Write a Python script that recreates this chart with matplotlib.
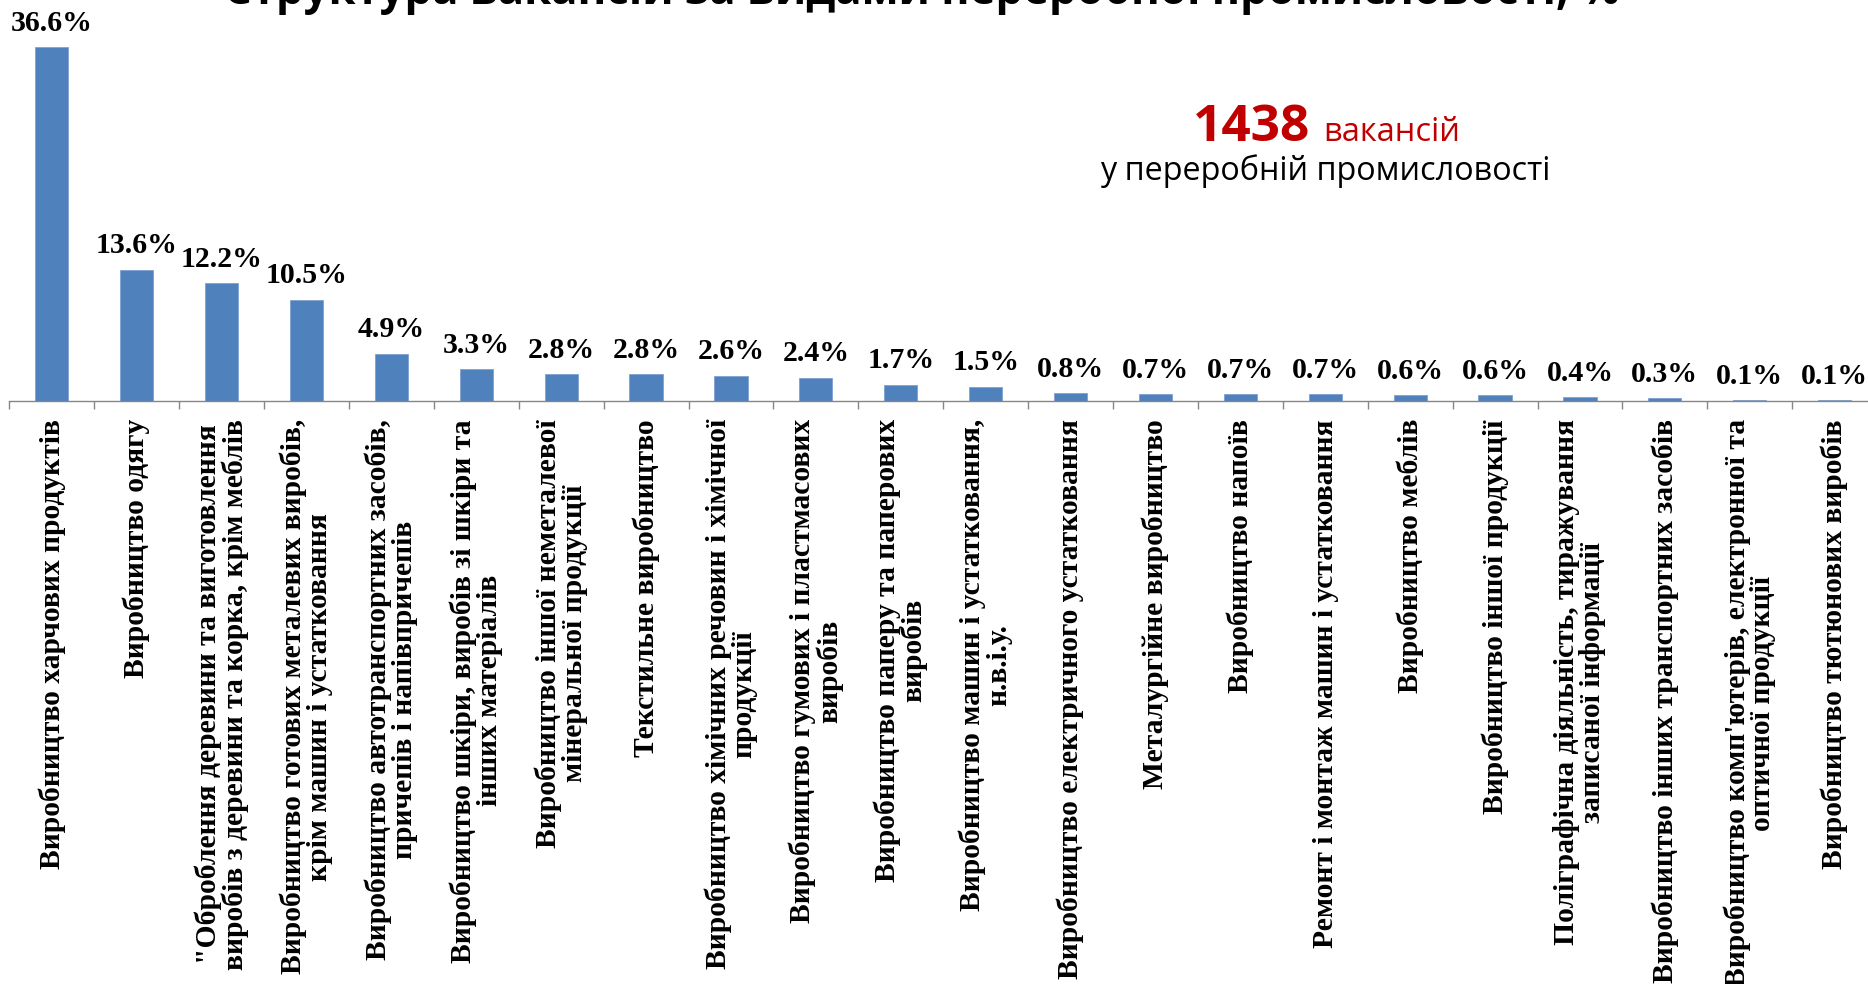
import matplotlib
matplotlib.use("Agg")
import matplotlib.pyplot as plt
from matplotlib.ticker import FixedLocator

W, H, DPI = 1868, 984, 100

categories = [
    "Виробництво харчових продуктів",
    "Виробництво одягу",
    "\"Оброблення деревини та виготовлення\nвиробів з деревини та корка, крім меблів",
    "Виробництво готових металевих виробів,\nкрім машин і устатковання",
    "Виробництво автотранспортних засобів,\nпричепів і напівпричепів",
    "Виробництво шкіри, виробів зі шкіри та\nінших матеріалів",
    "Виробництво іншої неметалевої\nмінеральної продукції",
    "Текстильне виробництво",
    "Виробництво хімічних речовин і хімічної\nпродукції",
    "Виробництво гумових і пластмасових\nвиробів",
    "Виробництво паперу та паперових\nвиробів",
    "Виробництво машин і устатковання,\nн.в.і.у.",
    "Виробництво електричного устатковання",
    "Металургійне виробництво",
    "Виробництво напоїв",
    "Ремонт і монтаж машин і устатковання",
    "Виробництво меблів",
    "Виробництво іншої продукції",
    "Поліграфічна діяльність, тиражування\nзаписаної інформації",
    "Виробництво інших транспортних засобів",
    "Виробництво комп'ютерів, електронної та\nоптичної продукції",
    "Виробництво тютюнових виробів",
]
values = [36.6, 13.6, 12.2, 10.5, 4.9, 3.3, 2.8, 2.8, 2.6, 2.4, 1.7, 1.5,
          0.8, 0.7, 0.7, 0.7, 0.6, 0.6, 0.4, 0.3, 0.1, 0.1]

title = "Структура вакансій за видами переробної промисловості, %"
total_number = "1438"
total_word = "вакансій"
total_line2 = "у переробній промисловості"

BAR_COLOR = "#4F81BD"
AXIS_COLOR = "#868686"
RED = "#C00000"
SERIF = ["Liberation Serif", "DejaVu Serif"]
SANS = ["Open Sans", "DejaVu Sans"]

fig = plt.figure(figsize=(W / DPI, H / DPI), dpi=DPI)
fig.patch.set_facecolor("white")

def fx(px):
    return px / W

def fy(py):
    return 1 - py / H

# axes geometry (pixels)
left_px, axis_y_px, step_px = 9.3, 401.0, 84.9
n = len(values)
ax = fig.add_axes([fx(left_px), fy(axis_y_px), n * step_px / W, axis_y_px / H])
ax.set_facecolor("none")

x = list(range(n))
ax.bar(x, values, width=0.39, color=BAR_COLOR, edgecolor="#7FA2D0",
       linewidth=0.6, zorder=2)
ax.set_xlim(-0.5, n - 0.5)
ax.set_ylim(0, axis_y_px / 9.66)

for s in ["top", "right", "left"]:
    ax.spines[s].set_visible(False)
ax.spines["bottom"].set_color(AXIS_COLOR)
ax.spines["bottom"].set_linewidth(1.0)
ax.set_yticks([])

ax.set_xticks(x)
ax.set_xticklabels(categories, rotation=90, ha="center", va="top",
                   multialignment="center", linespacing=0.95,
                   fontsize=21.3, fontweight="bold", family=SERIF)
ax.tick_params(axis="x", which="major", length=0, pad=13)
ax.xaxis.set_minor_locator(FixedLocator([i - 0.5 for i in range(n + 1)]))
ax.tick_params(axis="x", which="minor", length=5.4, width=1.0,
               color=AXIS_COLOR, direction="out")

for xi, v in zip(x, values):
    ax.annotate(f"{v:.1f}%", (xi, v), xytext=(0, 11.8), textcoords="offset points",
                ha="center", va="baseline", fontsize=21.5, fontweight="bold",
                family=SERIF, annotation_clip=False)

fig.text(fx(922), fy(4), title, ha="center", va="baseline",
         fontsize=31.5, fontweight="bold", family=SANS)

fig.text(fx(1193), fy(141), total_number, ha="left", va="baseline",
         fontsize=37, fontweight="bold", family=SANS, color=RED)
fig.text(fx(1323), fy(141), total_word, ha="left", va="baseline",
         fontsize=23.5, family=SANS, color=RED)
fig.text(fx(1325), fy(180), total_line2, ha="center", va="baseline",
         fontsize=23.3, family=SANS, color="black")

fig.savefig("out.png", dpi=DPI, facecolor="white")
